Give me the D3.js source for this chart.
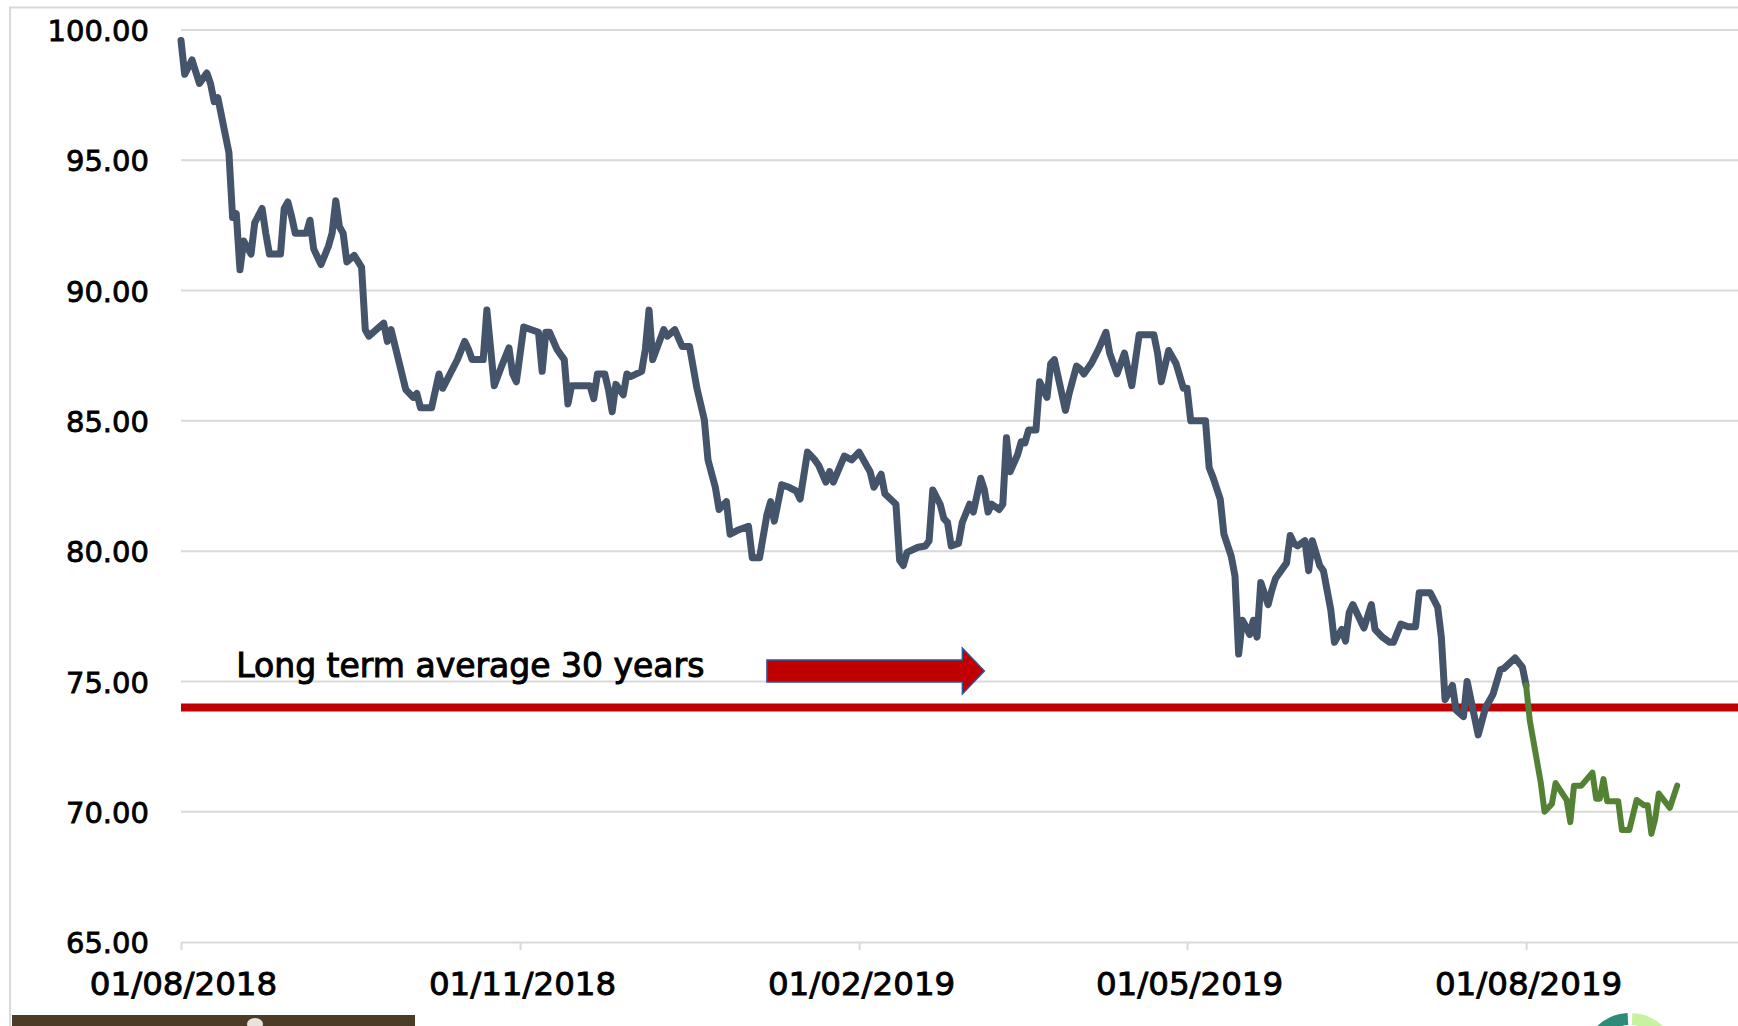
<!DOCTYPE html>
<html>
<head>
<meta charset="utf-8">
<script src="https://cdn.jsdelivr.net/npm/d3@7"></script>
<style>
  html, body { margin: 0; padding: 0; background: #ffffff; }
  svg { display: block; }
</style>
</head>
<body>
<svg id="chart" width="1738" height="1026"></svg>
<script>
// ---------------- DATA ----------------
const priceDates = [
  "2018-08-01","2018-08-02","2018-08-04","2018-08-05","2018-08-06","2018-08-08","2018-08-09","2018-08-10","2018-08-11","2018-08-14",
  "2018-08-15","2018-08-16","2018-08-17","2018-08-18","2018-08-20","2018-08-21","2018-08-23","2018-08-24","2018-08-25","2018-08-28",
  "2018-08-29","2018-08-30","2018-08-31","2018-09-01","2018-09-04","2018-09-05","2018-09-06","2018-09-08","2018-09-10","2018-09-11",
  "2018-09-12","2018-09-13","2018-09-14","2018-09-15","2018-09-17","2018-09-19","2018-09-20","2018-09-21","2018-09-23","2018-09-25",
  "2018-09-26","2018-09-27","2018-09-29","2018-10-01","2018-10-03","2018-10-04","2018-10-05","2018-10-08","2018-10-10","2018-10-11",
  "2018-10-15","2018-10-17","2018-10-18","2018-10-19","2018-10-22","2018-10-23","2018-10-25","2018-10-27","2018-10-29","2018-10-30",
  "2018-10-31","2018-11-02","2018-11-06","2018-11-07","2018-11-08","2018-11-09","2018-11-11","2018-11-13","2018-11-14","2018-11-15",
  "2018-11-20","2018-11-21","2018-11-22","2018-11-24","2018-11-25","2018-11-26","2018-11-27","2018-11-29","2018-11-30","2018-12-01",
  "2018-12-04","2018-12-05","2018-12-06","2018-12-07","2018-12-10","2018-12-11","2018-12-13","2018-12-15","2018-12-17","2018-12-19",
  "2018-12-21","2018-12-22","2018-12-24","2018-12-25","2018-12-27","2018-12-28","2018-12-30","2019-01-02","2019-01-03","2019-01-05",
  "2019-01-07","2019-01-08","2019-01-09","2019-01-11","2019-01-13","2019-01-15","2019-01-16","2019-01-18","2019-01-20","2019-01-21",
  "2019-01-23","2019-01-24","2019-01-25","2019-01-28","2019-01-30","2019-02-01","2019-02-04","2019-02-05","2019-02-07","2019-02-08",
  "2019-02-11","2019-02-12","2019-02-13","2019-02-14","2019-02-17","2019-02-19","2019-02-20","2019-02-21","2019-02-23","2019-02-24",
  "2019-02-25","2019-02-26","2019-02-28","2019-03-01","2019-03-03","2019-03-04","2019-03-06","2019-03-07","2019-03-08","2019-03-09",
  "2019-03-11","2019-03-12","2019-03-13","2019-03-14","2019-03-16","2019-03-17","2019-03-18","2019-03-19","2019-03-21","2019-03-22",
  "2019-03-24","2019-03-25","2019-03-26","2019-03-29","2019-03-30","2019-04-01","2019-04-02","2019-04-03","2019-04-05","2019-04-07",
  "2019-04-09","2019-04-10","2019-04-12","2019-04-14","2019-04-16","2019-04-18","2019-04-22","2019-04-23","2019-04-24","2019-04-26",
  "2019-04-28","2019-04-30","2019-05-01","2019-05-02","2019-05-06","2019-05-07","2019-05-08","2019-05-10","2019-05-11","2019-05-13",
  "2019-05-14","2019-05-15","2019-05-16","2019-05-17","2019-05-18","2019-05-19","2019-05-20","2019-05-21","2019-05-23","2019-05-24",
  "2019-05-25","2019-05-28","2019-05-29","2019-05-30","2019-05-31","2019-06-02","2019-06-03","2019-06-04","2019-06-06","2019-06-07",
  "2019-06-09","2019-06-10","2019-06-12","2019-06-13","2019-06-14","2019-06-15","2019-06-17","2019-06-18","2019-06-20","2019-06-21",
  "2019-06-23","2019-06-25","2019-06-26","2019-06-28","2019-06-30","2019-07-02","2019-07-03","2019-07-06","2019-07-08","2019-07-09",
  "2019-07-10","2019-07-12","2019-07-13","2019-07-15","2019-07-16","2019-07-19","2019-07-21","2019-07-23","2019-07-25","2019-07-26",
  "2019-07-29","2019-07-31","2019-08-01"
];
const priceValues = [
  99.6,98.3,98.85,98.4,97.95,98.35,97.95,97.25,97.4,95.3,
  92.8,92.95,90.8,91.9,91.4,92.6,93.15,92.2,91.4,91.4,
  93.15,93.4,92.85,92.2,92.2,92.7,91.6,91.0,91.7,92.2,
  93.45,92.45,92.2,91.1,91.35,90.9,88.5,88.25,88.5,88.75,
  88.05,88.5,87.35,86.2,85.9,86.05,85.5,85.5,86.8,86.25,
  87.35,88.05,87.75,87.35,87.35,89.25,86.35,87.1,87.8,86.8,
  86.5,88.6,88.4,86.9,88.4,88.4,87.75,87.35,85.65,86.35,
  86.35,85.85,86.8,86.8,86.2,85.35,86.4,86.0,86.8,86.7,
  86.9,87.75,89.25,87.35,88.5,88.25,88.5,87.85,87.85,86.25,
  85.05,83.5,82.45,81.6,81.9,80.65,80.8,80.95,79.75,79.75,
  81.4,81.9,81.15,82.55,82.45,82.3,82.0,83.8,83.5,83.3,
  82.65,83.05,82.65,83.65,83.5,83.8,83.05,82.45,82.95,82.2,
  81.8,79.65,79.45,79.95,80.15,80.2,80.4,82.35,81.8,81.25,
  81.1,80.2,80.3,81.1,81.8,81.5,82.8,82.35,81.5,81.8,
  81.6,81.8,84.35,83.05,83.7,84.2,84.15,84.65,84.65,86.5,
  85.9,87.2,87.35,85.4,86.05,87.1,87.0,86.8,87.2,87.75,
  88.4,87.6,86.8,87.6,86.35,88.3,88.3,87.6,86.5,87.7,
  87.2,86.25,86.25,85.0,85.0,83.2,82.85,82.0,80.65,79.8,
  79.05,76.05,77.35,77.1,76.8,77.35,76.7,78.8,77.95,78.5,
  78.95,79.55,80.6,80.3,80.2,80.4,79.25,80.4,79.45,79.25,
  77.75,76.5,77.0,76.55,77.65,77.95,77.35,77.05,77.95,77.0,
  76.7,76.5,76.5,77.2,77.1,77.1,78.4,78.4,77.85,76.7,
  74.3,74.85,73.9,73.65,75.0,72.95,74.0,74.5,75.45,75.5,
  75.9,75.55,74.85
];
const recentDates = [
  "2019-08-01","2019-08-02","2019-08-05","2019-08-06","2019-08-08","2019-08-09","2019-08-12","2019-08-13","2019-08-14","2019-08-16",
  "2019-08-19","2019-08-20","2019-08-21","2019-08-22","2019-08-23","2019-08-26","2019-08-27","2019-08-29","2019-08-31","2019-09-02",
  "2019-09-03","2019-09-04","2019-09-05","2019-09-06","2019-09-09","2019-09-11"
];
const recentValues = [
  74.85,73.5,71.1,70.0,70.3,71.1,70.45,69.6,71.0,71.0,
  71.5,70.5,70.5,71.25,70.4,70.4,69.3,69.3,70.45,70.25,
  70.25,69.15,69.7,70.7,70.15,71.0
];
const longTermAverage = 74.0;
const annotationLabel = "Long term average 30 years";
const yTickValues = [65, 70, 75, 80, 85, 90, 95, 100];
const xTickDates = ["2018-08-01", "2018-11-01", "2019-02-01", "2019-05-01", "2019-08-01"];
const xDomain = ["2018-08-01", "2019-09-27"];
const yDomain = [65, 100];

// ---------------- CHART ----------------
(function () {
  const W = 1738, H = 1026;
  const parse = d3.timeParse("%Y-%m-%d");
  const svg = d3.select("#chart");
  const FONT = "'DejaVu Sans', sans-serif";

  svg.append("rect").attr("width", W).attr("height", H).attr("fill", "#ffffff");

  // outer frame (chart area border)
  svg.append("path")
    .attr("d", `M10,${H} L10,7.5 L${W},7.5`)
    .attr("fill", "none").attr("stroke", "#d9d9d9").attr("stroke-width", 2);

  const pLeft = 181, pRight = W, pTop = 30, pBottom = 942;
  const xEnd = d3.timeHour.offset(parse(xDomain[1]), 12);
  const x = d3.scaleTime().domain([parse(xDomain[0]), xEnd]).range([pLeft, pRight]);
  const y = d3.scaleLinear().domain(yDomain).range([pBottom, pTop]);

  // gridlines
  svg.append("g").selectAll("line").data(yTickValues.filter(v => v > yDomain[0])).join("line")
    .attr("x1", pLeft).attr("x2", pRight)
    .attr("y1", d => y(d)).attr("y2", d => y(d))
    .attr("stroke", "#d9d9d9").attr("stroke-width", 2);

  // y axis labels
  const yAxis = d3.axisLeft(y).tickValues(yTickValues).tickFormat(d3.format(".2f")).tickSize(0).tickPadding(0);
  const yg = svg.append("g").attr("transform", `translate(149,0)`).call(yAxis);
  yg.select(".domain").remove();
  yg.selectAll("text")
    .attr("font-family", FONT).attr("font-size", 29).attr("fill", "#000")
    .attr("stroke", "#000").attr("stroke-width", 0.8)
    .attr("x", 0).attr("dy", "0.365em");

  // x axis
  const xAxis = d3.axisBottom(x).tickValues(xTickDates.map(parse))
    .tickFormat(d3.timeFormat("%d/%m/%Y")).tickSize(8).tickSizeOuter(0);
  const xg = svg.append("g").attr("transform", `translate(0,${pBottom})`).call(xAxis);
  xg.select(".domain").attr("stroke", "#d9d9d9").attr("stroke-width", 2);
  xg.selectAll(".tick line").attr("stroke", "#d9d9d9").attr("stroke-width", 2);
  xg.selectAll(".tick text")
    .attr("font-family", FONT).attr("font-size", 32.5).attr("fill", "#000")
    .attr("stroke", "#000").attr("stroke-width", 0.9)
    .attr("y", 53).attr("dy", 0).attr("dx", 2);

  // long-term average line
  svg.append("line")
    .attr("x1", pLeft).attr("x2", pRight)
    .attr("y1", y(longTermAverage)).attr("y2", y(longTermAverage))
    .attr("stroke", "#c00000").attr("stroke-width", 8);

  // price lines
  const line = d3.line().x(d => x(d[0])).y(d => y(d[1]));
  const priceData = priceDates.map((d, i) => [parse(d), priceValues[i]]);
  const recentData = recentDates.map((d, i) => [parse(d), recentValues[i]]);

  svg.append("path").datum(priceData)
    .attr("d", line).attr("fill", "none")
    .attr("stroke", "#44546a").attr("stroke-width", 7)
    .attr("stroke-linejoin", "round").attr("stroke-linecap", "round");

  svg.append("path").datum(recentData)
    .attr("d", line).attr("fill", "none")
    .attr("stroke", "#548235").attr("stroke-width", 6)
    .attr("stroke-linejoin", "round").attr("stroke-linecap", "round");

  // annotation text
  svg.append("text")
    .attr("x", x(parse("2018-08-16")))
    .attr("y", y(75.17))
    .attr("font-family", FONT).attr("font-size", 33).attr("fill", "#000")
    .attr("stroke", "#000").attr("stroke-width", 1)
    .text(annotationLabel);

  // arrow annotation
  const ax0 = x(parse("2019-01-07")), ax1 = x(parse("2019-03-07"));
  const ay = y(75.4);
  const headLen = 22, bodyH = 11, headH = 23;
  svg.append("path")
    .attr("d", `M${ax0},${ay - bodyH} L${ax1 - headLen},${ay - bodyH} L${ax1 - headLen},${ay - headH}
                L${ax1},${ay} L${ax1 - headLen},${ay + headH} L${ax1 - headLen},${ay + bodyH} L${ax0},${ay + bodyH} Z`)
    .attr("fill", "#c00000").attr("stroke", "#2f5597").attr("stroke-width", 1.5);

  // bottom decorations (cropped slide elements)
  svg.append("rect").attr("x", 12).attr("y", 1015).attr("width", 403).attr("height", 11).attr("fill", "#4b3b27");
  svg.append("ellipse").attr("cx", 255).attr("cy", 1024).attr("rx", 8).attr("ry", 6).attr("fill", "#e8e4dc");

  const arc = d3.arc().innerRadius(36).outerRadius(48);
  const logo = svg.append("g").attr("transform", "translate(1630,1061)");
  logo.append("path").attr("d", arc({startAngle: -Math.PI / 2, endAngle: -0.05})).attr("fill", "#2e8b78");
  logo.append("path").attr("d", arc({startAngle: 0.05, endAngle: Math.PI / 2})).attr("fill", "#c6f3a0");
})();
</script>
</body>
</html>
